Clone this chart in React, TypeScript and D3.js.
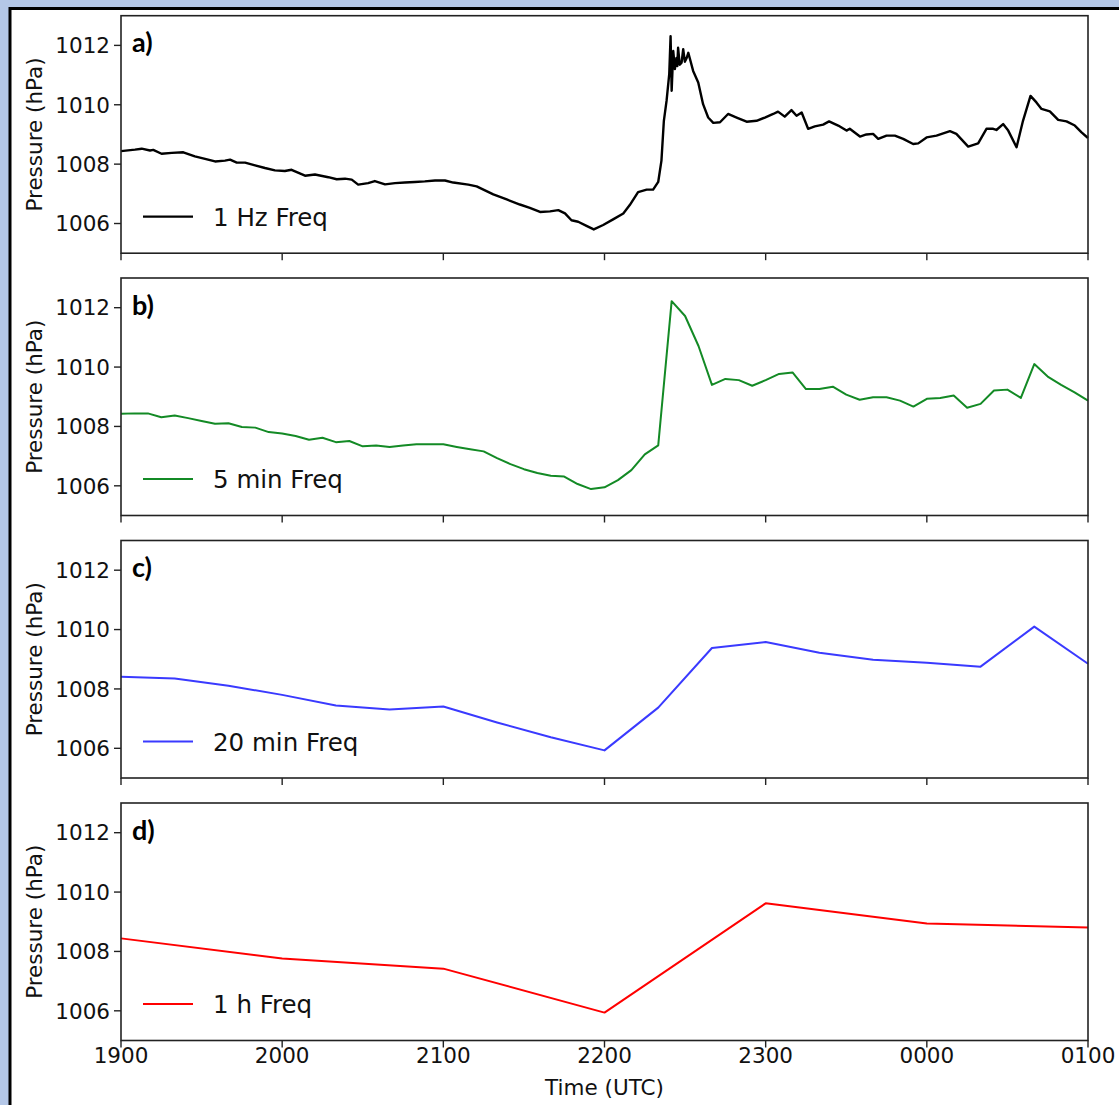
import React from "react";
import * as d3 from "d3";

// time in minutes after 1900 UTC, pressure in hPa
const oneHzSeries: [number, number][] = [
  [0, 1008.44], [5.2, 1008.49], [7.7, 1008.52], [10.8, 1008.46], [12, 1008.48],
  [15.1, 1008.35], [18.9, 1008.38], [23.2, 1008.4], [27.5, 1008.26], [31.3, 1008.18],
  [35, 1008.09], [38.7, 1008.12], [40.6, 1008.15], [43.1, 1008.05], [46.2, 1008.05],
  [49.9, 1007.96], [53.6, 1007.87], [57.3, 1007.79], [61, 1007.77], [63.5, 1007.81],
  [68.5, 1007.61], [72.2, 1007.65], [77.2, 1007.56], [80.3, 1007.49], [83.4, 1007.51],
  [85.9, 1007.48], [88.3, 1007.31], [92, 1007.36], [94.5, 1007.43], [98.3, 1007.32],
  [102, 1007.36], [105.7, 1007.38], [109.4, 1007.4], [113.1, 1007.42], [116.9, 1007.45],
  [120.6, 1007.45], [123.7, 1007.38], [129.3, 1007.31], [132.4, 1007.25], [138.6, 1006.98],
  [143.6, 1006.81], [148.5, 1006.64], [152.2, 1006.53], [156, 1006.39], [159.7, 1006.41],
  [162.8, 1006.45], [165.3, 1006.34], [167.7, 1006.11], [170.2, 1006.06], [173.3, 1005.92],
  [176, 1005.8], [179.5, 1005.95], [183.2, 1006.14], [187, 1006.34], [189.4, 1006.62],
  [192.5, 1007.06], [195.7, 1007.14], [198.1, 1007.14], [200, 1007.4], [201.2, 1008.12],
  [202.1, 1009.46], [203.1, 1010.13], [204.1, 1011.03], [204.6, 1012.31], [205, 1010.47],
  [205.6, 1011.81], [206.2, 1011.2], [206.8, 1011.58], [207.1, 1011.3], [207.4, 1011.92],
  [208, 1011.35], [208.7, 1011.42], [209.3, 1011.87], [209.9, 1011.45], [210.6, 1011.58],
  [211.2, 1011.75], [213, 1011.14], [214.9, 1010.75], [216.7, 1010.02], [218.6, 1009.57],
  [220.5, 1009.39], [223, 1009.41], [226, 1009.69], [229.2, 1009.57], [232.9, 1009.43],
  [236.6, 1009.46], [239.7, 1009.57], [242.8, 1009.69], [244.6, 1009.77], [247.1, 1009.6],
  [249.6, 1009.82], [251.5, 1009.63], [253.4, 1009.74], [255.8, 1009.19], [258.3, 1009.27],
  [261.4, 1009.33], [263.6, 1009.44], [267, 1009.3], [270.1, 1009.13], [271.3, 1009.19],
  [275.1, 1008.93], [277.5, 1009.0], [280, 1009.02], [281.9, 1008.85], [285, 1008.96],
  [288.1, 1008.96], [291.2, 1008.85], [294.9, 1008.68], [296.8, 1008.7], [299.9, 1008.9],
  [303.6, 1008.96], [308.6, 1009.11], [311, 1009.02], [315.4, 1008.59], [319.1, 1008.7],
  [322.2, 1009.19], [324.7, 1009.19], [325.9, 1009.15], [328.4, 1009.35], [330.3, 1009.13],
  [333.4, 1008.57], [335.8, 1009.46], [338.6, 1010.3], [340.8, 1010.08], [342.7, 1009.86],
  [345.8, 1009.78], [348.9, 1009.49], [352, 1009.44], [355.1, 1009.3], [357.6, 1009.07],
  [360, 1008.88],
];

const fiveMinValues = [
  1008.43, 1008.44, 1008.44, 1008.31, 1008.37, 1008.28, 1008.18, 1008.09, 1008.11, 1007.98,
  1007.96, 1007.81, 1007.76, 1007.68, 1007.55, 1007.62, 1007.47, 1007.51, 1007.33, 1007.36,
  1007.31, 1007.36, 1007.4, 1007.4, 1007.4, 1007.31, 1007.23, 1007.16, 1006.93, 1006.73,
  1006.56, 1006.43, 1006.34, 1006.31, 1006.06, 1005.89, 1005.95, 1006.19, 1006.53, 1007.06,
  1007.36, 1012.22, 1011.72, 1010.71, 1009.4, 1009.6, 1009.56, 1009.37, 1009.56, 1009.77,
  1009.82, 1009.26, 1009.26, 1009.34, 1009.07, 1008.9, 1008.98, 1008.98, 1008.87, 1008.67,
  1008.93, 1008.96, 1009.04, 1008.63, 1008.76, 1009.21, 1009.24, 1008.96, 1010.1, 1009.68,
  1009.4, 1009.15, 1008.87,
];

const twentyMinValues = [
  1008.41, 1008.35, 1008.11, 1007.8, 1007.44, 1007.31, 1007.41, 1006.87, 1006.37, 1005.93,
  1007.37, 1009.38, 1009.58, 1009.22, 1008.98, 1008.88, 1008.75, 1010.1, 1008.85,
];

const oneHourValues = [1008.44, 1007.76, 1007.42, 1005.94, 1009.62, 1008.94, 1008.81];

const timeTickLabels = ["1900", "2000", "2100", "2200", "2300", "0000", "0100"];
const pressureTicks = [1006, 1008, 1010, 1012];
const panelLetters = ["a)", "b)", "c)", "d)"];
const legendLabels = ["1 Hz Freq", "5 min Freq", "20 min Freq", "1 h Freq"];
const lineColors = ["#000000", "#138a25", "#3a3aff", "#ff0000"];

const W = 1119;
const H = 1105;
const left = 121;
const right = 1088;
const panelTops = [15.7, 278, 540.5, 803];
const panelH = 237.5;
const font = "DejaVu Sans, sans-serif";

const x = d3.scaleLinear().domain([0, 360]).range([left, right]);

const App = () => {
  const series: [number, number][][] = [
    oneHzSeries,
    fiveMinValues.map((v, i) => [i * 5, v] as [number, number]),
    twentyMinValues.map((v, i) => [i * 20, v] as [number, number]),
    oneHourValues.map((v, i) => [i * 60, v] as [number, number]),
  ];

  return (
    <svg
      width={W}
      height={H}
      style={{ position: "absolute", left: 0, top: 0 }}
      fontFamily={font}
    >
      <rect x={0} y={0} width={W} height={H} fill="#b4c7e7" />
      <rect x={10} y={8.5} width={W + 20} height={H + 20} fill="#fff" stroke="#000" strokeWidth={3} />

      {series.map((data, p) => {
        const top = panelTops[p];
        const y = d3.scaleLinear().domain([1005, 1013]).range([top + panelH, top]);
        const line = d3
          .line<[number, number]>()
          .x((d) => x(d[0]))
          .y((d) => y(d[1]));
        return (
          <g key={p}>
            <path d={line(data) || ""} fill="none" stroke={lineColors[p]} strokeWidth={p === 0 ? 2.4 : 2} strokeLinejoin="round" />
            <rect x={left} y={top} width={right - left} height={panelH} fill="none" stroke="#222" strokeWidth={1.6} />
            {pressureTicks.map((t) => (
              <g key={t}>
                <line x1={left - 7} x2={left} y1={y(t)} y2={y(t)} stroke="#222" strokeWidth={1.4} />
                <text x={110} y={y(t)} dy="0.36em" textAnchor="end" fontSize={21.5} fill="#111">
                  {t}
                </text>
              </g>
            ))}
            {timeTickLabels.map((lab, i) => (
              <g key={lab}>
                <line x1={x(i * 60)} x2={x(i * 60)} y1={top + panelH} y2={top + panelH + 7} stroke="#222" strokeWidth={1.4} />
                {p === 3 && (
                  <text x={x(i * 60)} y={1063} textAnchor="middle" fontSize={21.5} fill="#111">
                    {lab}
                  </text>
                )}
              </g>
            ))}
            <text
              transform={`translate(42, ${top + panelH / 2}) rotate(-90)`}
              textAnchor="middle"
              fontSize={21.5}
              fill="#111"
            >
              Pressure (hPa)
            </text>
            <text x={132} y={top + 36.5} fontFamily="Lato, sans-serif" fontWeight={700} fontSize={27} fill="#000">
              {panelLetters[p]}
            </text>
            <line x1={143} x2={193} y1={top + 201} y2={top + 201} stroke={lineColors[p]} strokeWidth={2.2} />
            <text x={213} y={top + 210} fontSize={24.5} fill="#111">
              {legendLabels[p]}
            </text>
          </g>
        );
      })}

      <text x={x(180)} y={1095} textAnchor="middle" fontSize={21.5} fill="#111">
        Time (UTC)
      </text>
    </svg>
  );
};

export default App;
